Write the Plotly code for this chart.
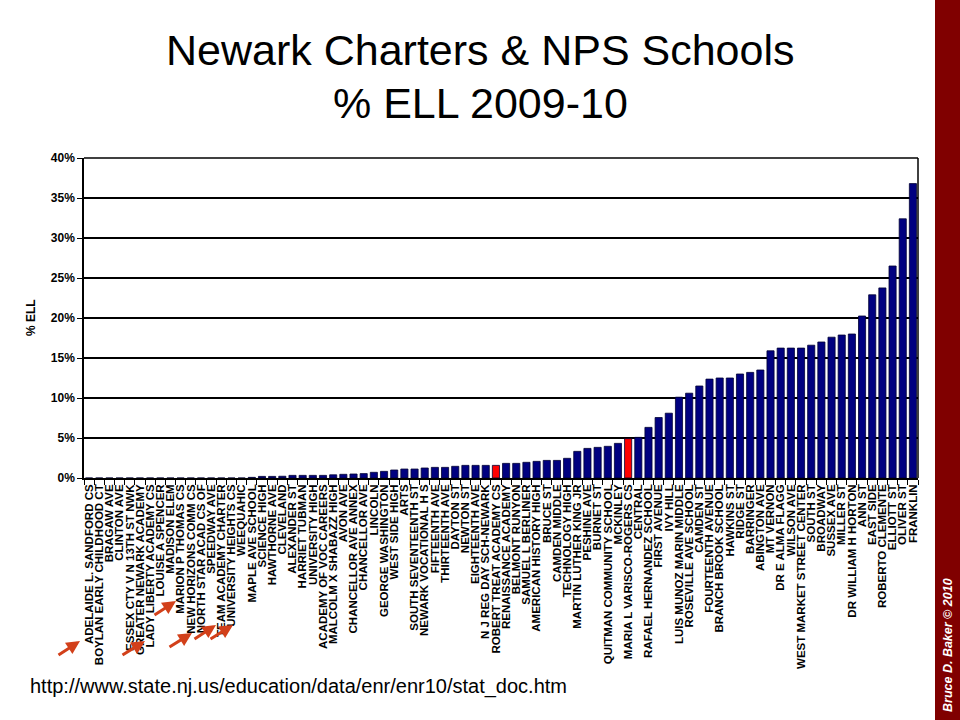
import plotly.graph_objects as go

schools = [
    "ADELAIDE L. SANDFORD CS", "BOYLAN EARLY CHILDHOOD CT", "BRAGAW AVE", "CLINTON AVE",
    "ESSEX CTY V N 13TH ST NWK", "GREATER NEWARK ACADEMY", "LADY LIBERTY ACADEMY CS",
    "LOUISE A SPENCER", "MADISON ELEM", "MARION P THOMAS CS", "NEW HORIZONS COMM CS",
    "NORTH STAR ACAD CS OF", "SPEEDWAY AVE", "TEAM ACADEMY CHARTER", "UNIVERSITY HEIGHTS CS",
    "WEEQUAHIC", "MAPLE AVE SCHOOL", "SCIENCE HIGH", "HAWTHORNE AVE", "CLEVELAND",
    "ALEXANDER ST", "HARRIET TUBMAN", "UNIVERSITY HIGH", "ACADEMY OF VOC CAREERS",
    "MALCOLM X SHABAZZ HIGH", "AVON AVE", "CHANCELLOR AVE ANNEX", "CHANCELLOR AVE",
    "LINCOLN", "GEORGE WASHINGTON", "WEST SIDE HIGH", "ARTS", "SOUTH SEVENTEENTH ST",
    "NEWARK VOCATIONAL H S", "FIFTEENTH AVE", "THIRTEENTH AVE", "DAYTON ST", "NEWTON ST",
    "EIGHTEENTH AVE", "N J REG DAY SCH-NEWARK", "ROBERT TREAT ACADEMY CS",
    "RENAISSANCE ACADEMY", "BELMONT RUNYON", "SAMUEL L BERLINER", "AMERICAN HISTORY HIGH",
    "BRUCE ST", "CAMDEN MIDDLE", "TECHNOLOGY HIGH", "MARTIN LUTHER KING JR", "PESHINE AVE",
    "BURNET ST", "QUITMAN COMMUNITY SCHOOL", "MCKINLEY", "MARIA L VARISCO-ROGERS CS",
    "CENTRAL", "RAFAEL HERNANDEZ SCHOOL", "FIRST AVENUE", "IVY HILL",
    "LUIS MUNOZ MARIN MIDDLE", "ROSEVILLE AVE SCHOOL", "CAMDEN ST", "FOURTEENTH AVENUE",
    "BRANCH BROOK SCHOOL", "HAWKINS ST", "RIDGE ST", "BARRINGER", "ABINGTON AVE",
    "MT VERNON", "DR E ALMA FLAGG", "WILSON AVE", "WEST MARKET STREET CENTER", "SOUTH ST",
    "BROADWAY", "SUSSEX AVE", "MILLER ST", "DR WILLIAM H HORTON", "ANN ST", "EAST SIDE",
    "ROBERTO CLEMENTE", "ELLIOTT ST", "OLIVER ST", "FRANKLIN",
]

pct_ell = [
    0, 0, 0, 0, 0, 0, 0, 0, 0, 0, 0, 0, 0, 0, 0, 0,
    0.08, 0.2, 0.2, 0.22, 0.33, 0.33, 0.33, 0.33, 0.4, 0.46, 0.5, 0.55,
    0.71, 0.83, 1.0, 1.12, 1.12, 1.25, 1.33, 1.33, 1.46, 1.58, 1.58, 1.58, 1.58,
    1.83, 1.83, 1.96, 2.08, 2.2, 2.2, 2.46, 3.33, 3.7, 3.83, 3.96, 4.33, 4.92,
    5.08, 6.33, 7.56, 8.1, 10.1, 10.6, 11.5, 12.36, 12.5, 12.5, 13.0, 13.2, 13.5,
    15.9, 16.24, 16.24, 16.24, 16.6, 17.0, 17.6, 17.87, 18.0, 20.25, 22.9, 23.76,
    26.5, 32.4, 36.8,
]

highlighted = ["ROBERT TREAT ACADEMY CS", "MARIA L VARISCO-ROGERS CS"]

y_ticks = [0, 5, 10, 15, 20, 25, 30, 35, 40]
y_tick_text = [f"{v}%" for v in y_ticks]

colors = ["#ff0000" if s in highlighted else "#000080" for s in schools]

fig = go.Figure()
fig.add_trace(go.Bar(
    x=schools, y=pct_ell,
    marker=dict(color=colors, line=dict(color="#000033", width=0.8)),
))

L, R, T, B = 84, 918, 158, 478
W, H = 960, 720

def px(xp):
    return (xp - L) / (R - L)

def py(yp):
    return (B - yp) / (B - T)

ann = []
for text, xc, yc in [("Newark Charters & NPS Schools", 480, 50), ("% ELL 2009-10", 480, 103)]:
    ann.append(dict(text=text, xref="paper", yref="paper", x=px(xc), y=py(yc),
                    showarrow=False, xanchor="center", yanchor="middle",
                    font=dict(family="Liberation Sans, Arial", size=43, color="black")))

ann.append(dict(text="http://www.state.nj.us/education/data/enr/enr10/stat_doc.htm",
                xref="paper", yref="paper", x=px(28), y=py(686), showarrow=False,
                xanchor="left", yanchor="middle",
                font=dict(family="Liberation Sans, Arial", size=20, color="black")))

ann.append(dict(text="<b><i>Bruce D. Baker © 2010</i></b>", xref="paper", yref="paper",
                x=px(948), y=py(645), showarrow=False, textangle=-90,
                xanchor="center", yanchor="middle",
                font=dict(family="Liberation Sans, Arial", size=12.5, color="white")))

ann.append(dict(text="<b>% ELL</b>", xref="paper", yref="paper", x=px(31), y=py(318),
                showarrow=False, textangle=-90, xanchor="center", yanchor="middle",
                font=dict(family="Liberation Sans, Arial", size=12, color="black")))

arrows = [
    ((57, 656), (80, 641)),
    ((121, 656), (145, 641)),
    ((153, 616), (176, 601)),
    ((168, 648), (192, 633)),
    ((193, 640), (216, 625)),
    ((209, 640), (233, 625)),
]
for (tx, ty), (hx, hy) in arrows:
    ann.append(dict(text="", xref="paper", yref="paper", x=px(hx), y=py(hy),
                    ax=tx - hx, ay=ty - hy, showarrow=True, arrowhead=2,
                    arrowsize=0.9, arrowwidth=3, arrowcolor="#d2401a"))

shapes = [
    dict(type="rect", xref="paper", yref="paper", x0=px(935), x1=px(961),
         y0=py(721), y1=py(-1), fillcolor="#800000", line=dict(width=0), layer="below"),
    dict(type="line", xref="paper", yref="paper", x0=0, x1=1, y0=1, y1=1,
         line=dict(color="black", width=1.5)),
    dict(type="line", xref="paper", yref="paper", x0=1, x1=1, y0=0, y1=1,
         line=dict(color="black", width=1.5)),
]

fig.update_layout(
    width=W, height=H,
    margin=dict(l=L, r=W - R, t=T, b=H - B, pad=0),
    paper_bgcolor="white", plot_bgcolor="white",
    showlegend=False, bargap=0.3,
    annotations=ann, shapes=shapes,
    xaxis=dict(
        type="category", tickangle=-90, tickson="boundaries",
        ticks="outside", ticklen=5, tickcolor="black", tickwidth=1,
        showline=True, linecolor="black", linewidth=1.5, showgrid=False,
        tickfont=dict(family="Liberation Sans Narrow, Arial Narrow, Liberation Sans", size=11.5, color="black"),
        tickmode="array", tickvals=schools, ticktext=[f"<b>{s}</b>" for s in schools],
        range=[-0.5, len(schools) - 0.5],
    ),
    yaxis=dict(
        range=[0, 40], tickvals=y_ticks, ticktext=[f"<b>{t}</b>" for t in y_tick_text],
        ticks="outside", ticklen=5, tickcolor="black",
        showline=True, linecolor="black", linewidth=1.5,
        showgrid=True, gridcolor="black", gridwidth=1.5,
        tickfont=dict(family="Liberation Sans, Arial", size=12, color="black"),
        zeroline=False,
    ),
)

fig.write_html("out.html", config={"displayModeBar": False},
               post_script="document.body.style.margin='0';document.body.style.overflow='hidden';")
